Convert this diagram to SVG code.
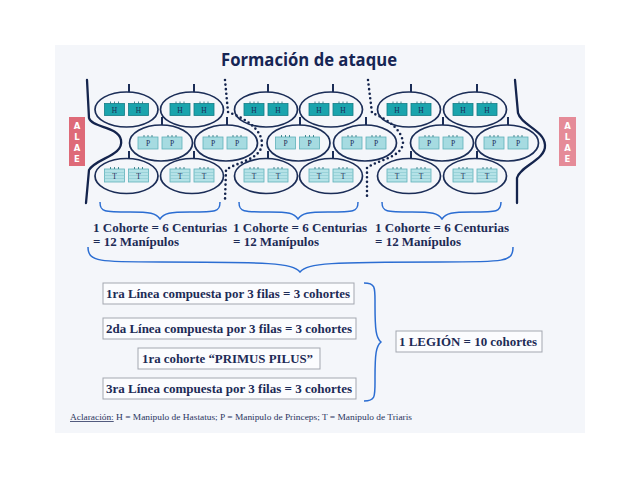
<svg xmlns="http://www.w3.org/2000/svg" width="640" height="480" viewBox="0 0 640 480">
<style>
.ell{fill:none;stroke:#1b2d57;stroke-width:1.7}
.tick{stroke:#1b2d57;stroke-width:2}
.wall{fill:none;stroke:#14244d;stroke-width:2.3;stroke-linecap:round}
.dots{fill:none;stroke:#14244d;stroke-width:2.6;stroke-dasharray:0 4.6;stroke-linecap:round}
.brace{fill:none;stroke:#2b6dd2;stroke-width:1.5}
.ct{font-family:"Liberation Serif","Times New Roman",serif;font-weight:bold;font-size:12.5px;fill:#1d2b56}
.bt{font-family:"Liberation Serif","Times New Roman",serif;font-weight:bold;font-size:12px;fill:#1d2b56}
.box{fill:#fbfcfe;stroke:#a3a7b0;stroke-width:1}
.alae{font-family:"DejaVu Sans",sans-serif;font-weight:bold;font-size:8.5px;fill:#ffffff;text-anchor:middle}
.ml{font-family:"Liberation Serif",serif;font-size:7.5px;fill:#1d2b56;text-anchor:middle}
.bk{stroke:#1b6f78;stroke-width:0.8}
</style>
<defs>
<g id="mH">
<rect x="0" y="0" width="20" height="12" fill="#1aa4ad" stroke="#137d86" stroke-width="0.8"/>
<path d="M6,0v-2M10,0v-2M14,0v-2" class="bk"/>
<text x="10" y="9" class="ml">H</text>
</g>
<g id="mP">
<rect x="0" y="0" width="20" height="12" fill="#a6dbe1" stroke="#5fb1ba" stroke-width="0.8"/>
<path d="M6,0v-2M10,0v-2M14,0v-2" class="bk"/>
<text x="10" y="9" class="ml">P</text>
</g>
<g id="mT">
<rect x="0" y="0" width="20" height="13" fill="#b5e2e7" stroke="#5fb1ba" stroke-width="0.8"/>
<path d="M0,3.5h20M0,6.5h20M0,9.5h20" stroke="#86c8d0" stroke-width="0.6"/>
<path d="M6,0v-2M10,0v-2M14,0v-2" class="bk"/>
<text x="10" y="10" class="ml" fill="#1a6a92">T</text>
</g>
</defs>
<rect x="0" y="0" width="640" height="480" fill="#ffffff"/>
<rect x="55" y="45" width="530" height="388" fill="#f4f6fa"/>
<text x="309" y="66" font-family="'Open Sans','DejaVu Sans',sans-serif" font-weight="bold" font-size="17" fill="#162554" text-anchor="middle" textLength="176" lengthAdjust="spacingAndGlyphs">Formación de ataque</text>

<g id="alae-left"><rect x="69" y="117" width="16" height="49" fill="#de6a78"/>
<text x="77" y="129" class="alae">A</text><text x="77" y="140" class="alae">L</text><text x="77" y="151" class="alae">A</text><text x="77" y="162" class="alae">E</text></g>
<g id="alae-right"><rect x="559" y="117" width="17" height="49" fill="#e58b98"/>
<text x="567.5" y="129" class="alae">A</text><text x="567.5" y="140" class="alae">L</text><text x="567.5" y="151" class="alae">A</text><text x="567.5" y="162" class="alae">E</text></g>

<g id="connectors">
<path class="wall" d="M87,80 L89,118 C92,128 118,126 121,140 C124,156 96,158 89,170 L86,203"/>
<path class="wall" d="M515,80 L518,113 C521,125 544,130 545,145 C546,160 520,166 517,178 L517,203"/>
<path class="dots" d="M225,80 L228,112 C244,118 261,128 262,143 C262,160 236,162 226,170 L225,200"/>
<path class="dots" d="M368,80 L372,113 C388,119 402,130 403,143 C402,158 376,160 367,168 L367,200"/>
<path class="brace" d="M100,202 C100,212 104,212 130,212 C150,212 156,213 160,219 C164,213 170,212 190,212 C216,212 220,212 220,202"/>
<path class="brace" d="M239,202 C239,212 243,212 269,212 C289,212 294,213 298,219 C302,213 308,212 328,212 C354,212 358,212 358,202"/>
<path class="brace" d="M382,202 C382,212 386,212 412,212 C432,212 438,213 442,219 C446,213 452,212 472,212 C497,212 501,212 501,202"/>
<path class="brace" d="M88,247 C88,262 100,262 160,262 C270,262 292,263 300,272 C308,263 330,262 440,262 C505,262 513,262 513,247"/>
<path class="brace" d="M364,283 C376,283 375,288 375,305 C375,330 376,338 381,342 C376,346 375,354 375,378 C375,396 376,401 364,401"/>
</g>

<g id="h1"><ellipse class="ell" cx="126.5" cy="109.5" rx="31.5" ry="17.5"/><path class="tick" d="M129,84v8"/><use href="#mH" x="104.5" y="103.5"/><use href="#mH" x="128.5" y="103.5"/></g>
<g id="h2"><ellipse class="ell" cx="192" cy="109.5" rx="31.5" ry="17.5"/><path class="tick" d="M194,84v8"/><use href="#mH" x="170" y="103.5"/><use href="#mH" x="194" y="103.5"/></g>
<g id="h3"><ellipse class="ell" cx="266" cy="109.5" rx="31.5" ry="17.5"/><path class="tick" d="M268,84v8"/><use href="#mH" x="244" y="103.5"/><use href="#mH" x="268" y="103.5"/></g>
<g id="h4"><ellipse class="ell" cx="331" cy="109.5" rx="31.5" ry="17.5"/><path class="tick" d="M333,84v8"/><use href="#mH" x="309" y="103.5"/><use href="#mH" x="333" y="103.5"/></g>
<g id="h5"><ellipse class="ell" cx="409" cy="109.5" rx="31.5" ry="17.5"/><path class="tick" d="M411,84v8"/><use href="#mH" x="387" y="103.5"/><use href="#mH" x="411" y="103.5"/></g>
<g id="h6"><ellipse class="ell" cx="475" cy="109.5" rx="31.5" ry="17.5"/><path class="tick" d="M477,84v8"/><use href="#mH" x="453" y="103.5"/><use href="#mH" x="477" y="103.5"/></g>

<g id="p1"><ellipse class="ell" cx="161" cy="143" rx="31.5" ry="18"/><path class="tick" d="M162,117v8"/><use href="#mP" x="138" y="137"/><use href="#mP" x="162" y="137"/></g>
<g id="p2"><ellipse class="ell" cx="226" cy="143" rx="31.5" ry="18"/><path class="tick" d="M227,117v8"/><use href="#mP" x="203" y="137"/><use href="#mP" x="227" y="137"/></g>
<g id="p3"><ellipse class="ell" cx="298.5" cy="143" rx="31.5" ry="18"/><path class="tick" d="M300,117v8"/><use href="#mP" x="275.5" y="137"/><use href="#mP" x="299.5" y="137"/></g>
<g id="p4"><ellipse class="ell" cx="365" cy="143" rx="31.5" ry="18"/><path class="tick" d="M366,117v8"/><use href="#mP" x="342" y="137"/><use href="#mP" x="366" y="137"/></g>
<g id="p5"><ellipse class="ell" cx="442" cy="143" rx="31.5" ry="18"/><path class="tick" d="M443,117v8"/><use href="#mP" x="419" y="137"/><use href="#mP" x="443" y="137"/></g>
<g id="p6"><ellipse class="ell" cx="507" cy="143" rx="31.5" ry="18"/><path class="tick" d="M508,117v8"/><use href="#mP" x="484" y="137"/><use href="#mP" x="508" y="137"/></g>

<g id="t1"><ellipse class="ell" cx="126.5" cy="176" rx="31.5" ry="17.5"/><path class="tick" d="M129,151v8"/><use href="#mT" x="104.5" y="169"/><use href="#mT" x="128.5" y="169"/></g>
<g id="t2"><ellipse class="ell" cx="192" cy="176" rx="31.5" ry="17.5"/><path class="tick" d="M194,151v8"/><use href="#mT" x="170" y="169"/><use href="#mT" x="194" y="169"/></g>
<g id="t3"><ellipse class="ell" cx="266" cy="176" rx="31.5" ry="17.5"/><path class="tick" d="M268,151v8"/><use href="#mT" x="244" y="169"/><use href="#mT" x="268" y="169"/></g>
<g id="t4"><ellipse class="ell" cx="331" cy="176" rx="31.5" ry="17.5"/><path class="tick" d="M333,151v8"/><use href="#mT" x="309" y="169"/><use href="#mT" x="333" y="169"/></g>
<g id="t5"><ellipse class="ell" cx="409" cy="176" rx="31.5" ry="17.5"/><path class="tick" d="M411,151v8"/><use href="#mT" x="387" y="169"/><use href="#mT" x="411" y="169"/></g>
<g id="t6"><ellipse class="ell" cx="475" cy="176" rx="31.5" ry="17.5"/><path class="tick" d="M477,151v8"/><use href="#mT" x="453" y="169"/><use href="#mT" x="477" y="169"/></g>

<g id="cohort-text-1"><text x="93" y="232" class="ct" textLength="134" lengthAdjust="spacingAndGlyphs">1 Cohorte = 6 Centurias</text><text x="93" y="246" class="ct" textLength="86" lengthAdjust="spacingAndGlyphs">= 12 Manípulos</text></g>
<g id="cohort-text-2"><text x="233" y="232" class="ct" textLength="134" lengthAdjust="spacingAndGlyphs">1 Cohorte = 6 Centurias</text><text x="233" y="246" class="ct" textLength="86" lengthAdjust="spacingAndGlyphs">= 12 Manípulos</text></g>
<g id="cohort-text-3"><text x="375" y="232" class="ct" textLength="134" lengthAdjust="spacingAndGlyphs">1 Cohorte = 6 Centurias</text><text x="375" y="246" class="ct" textLength="86" lengthAdjust="spacingAndGlyphs">= 12 Manípulos</text></g>

<g id="linea1"><rect class="box" x="103" y="283" width="251" height="21"/><text x="106" y="298" class="bt" textLength="244" lengthAdjust="spacingAndGlyphs">1ra Línea compuesta por 3 filas = 3 cohortes</text></g>
<g id="linea2"><rect class="box" x="103" y="318" width="253" height="21"/><text x="106" y="333" class="bt" textLength="246" lengthAdjust="spacingAndGlyphs">2da Línea compuesta por 3 filas = 3 cohortes</text></g>
<g id="primus"><rect class="box" x="138" y="348" width="182" height="21"/><text x="142" y="363" class="bt" textLength="171" lengthAdjust="spacingAndGlyphs">1ra cohorte “PRIMUS PILUS”</text></g>
<g id="linea3"><rect class="box" x="103" y="378" width="253" height="21"/><text x="106" y="393" class="bt" textLength="246" lengthAdjust="spacingAndGlyphs">3ra Línea compuesta por 3 filas = 3 cohortes</text></g>
<g id="legion"><rect class="box" x="396" y="331" width="146" height="21"/><text x="399" y="346" class="bt" textLength="138" lengthAdjust="spacingAndGlyphs">1 LEGIÓN = 10 cohortes</text></g>

<g id="legend" font-family="'Liberation Serif',serif" font-size="8" fill="#2a3560">
<text x="70" y="420" textLength="342" lengthAdjust="spacingAndGlyphs"><tspan text-decoration="underline">Aclaración:</tspan>  H = Manipulo de Hastatus; P = Manipulo de  Princeps; T = Manipulo de Triaris</text>
</g>
</svg>
